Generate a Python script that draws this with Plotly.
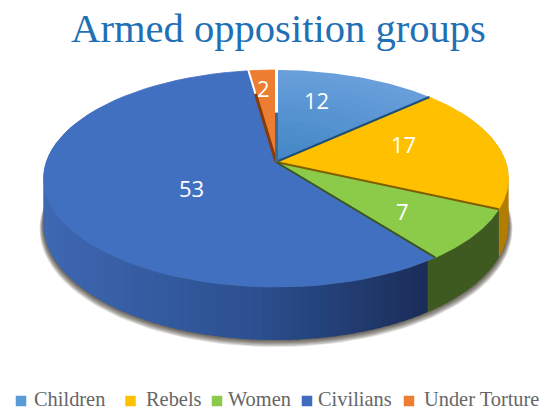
import numpy as np
import plotly.graph_objects as go

# ---- data ----
categories = ["Children", "Rebels", "Women", "Civilians", "Under Torture"]
values = [12, 17, 7, 53, 2]
title_text = "Armed opposition groups"

# ---- style ----
top_colors = ["#5B9BD5", "#FFC000", "#8CCB4A", "#4270C0", "#ED7D31"]
edge_colors = ["#1F4E79", "#7F5F00", "#3A5520", "#2F5597", "#843C0C"]
side_colors = ["#2E5F8C", "#B27E00", "#3F5A20", None, "#8A4A1C"]
legend_colors = ["#5B9BD5", "#FFC000", "#8CCB4A", "#3F6BC0", "#ED7D31"]
legend_marker_x = [21, 130.5, 217, 307, 409]
legend_text_x = [33, 145, 227, 317, 423]
legend_y = 401
legend_text_y = 399
label_pos = [(316, 100), (403, 144), (402, 211), (191, 188), (263, 88)]

CX, CY = 276, 162      # apex of the pie on the page
A, B, K = 229.7, 106.0, 0.152   # projection of the disc
DEPTH = 45.0           # thickness at the centre plane
WALL_SHIFT = 2.2       # the Women wall reaches a little under Civilians


def project(theta_deg, r=1.0, depth=0.0):
    t = np.radians(theta_deg)
    u, v = r * np.sin(t), r * np.cos(t)
    w = 1 + K * v
    return CX + A * u / w, CY - B * v / w + depth / w


def mix(c1, c2, f):
    a = [int(c1[i:i + 2], 16) for i in (1, 3, 5)]
    b = [int(c2[i:i + 2], 16) for i in (1, 3, 5)]
    return "#%02x%02x%02x" % tuple(round(p + (q - p) * f) for p, q in zip(a, b))


fig = go.Figure()


def poly(x, y, color, name, opacity=1.0, line=True):
    fig.add_trace(go.Scatter(
        x=list(x), y=list(y), mode="lines", fill="toself", fillcolor=color,
        line=dict(color=color, width=0.8 if line else 0), opacity=opacity,
        hoverinfo="skip", showlegend=False, name=name))


def seg(x, y, color, width, name):
    fig.add_trace(go.Scatter(x=list(x), y=list(y), mode="lines",
                             line=dict(color=color, width=width),
                             hoverinfo="skip", showlegend=False, name=name))


total = sum(values)
edges = np.concatenate([[0], np.cumsum(values)]) * 360.0 / total
wall_edges = edges.copy()
wall_edges[3] += WALL_SHIFT

# soft shadow beneath the body
ring = np.linspace(0, 360, 181)
for extra in (6, 5, 4, 3, 2, 1):
    sx, sy = project(ring, 1.0 + extra * 0.0028, DEPTH + extra * 0.6)
    poly(sx, sy, "#1A1206", "shadow", opacity=0.15, line=False)

# outer wall: each strip runs under the next one, so no seams show
for i, name in enumerate(categories):
    start, stop = wall_edges[i], wall_edges[i + 1]
    n = max(2, int((stop - start) / 2))
    steps = np.linspace(start, stop, n + 1)
    for a0, a1 in zip(steps[:-1], steps[1:]):
        if 60 > (a0 + a1) / 2 or (a0 + a1) / 2 > 300:
            continue
        arc = np.linspace(a0, min(a1 + 0.8, stop), 4)
        tx, ty = project(arc)
        bx, by = project(arc[::-1], 1.0, DEPTH)
        if side_colors[i] is None:
            f = float(np.clip((tx.mean() - 45) / (428 - 45), 0, 1))
            col = mix("#3E68B2", "#2B4F8F", f / 0.55) if f < 0.55 else mix("#2B4F8F", "#1A2D58", (f - 0.55) / 0.45)
        else:
            col = side_colors[i]
        poly(np.r_[tx, bx], np.r_[ty, by], col, name + " wall", line=False)

# top faces
for i, name in enumerate(categories):
    arc = np.linspace(edges[i], edges[i + 1], 60)
    if name == "Children":
        rings = np.linspace(1, 0.05, 14)
        for j, r in enumerate(rings):
            x, y = project(arc, r)
            poly(np.r_[x, CX + 3], np.r_[y, CY], mix("#689FDB", "#4386C6", j / 13), name, line=False)
    else:
        x, y = project(arc)
        poly(np.r_[x, CX], np.r_[y, CY], top_colors[i], name)

# cut edges between slices
for i, name in enumerate(categories[:3]):
    x, y = project(np.array([edges[i + 1]] * 2), np.array([0.0, 1.0]))
    seg(x, y, edge_colors[i], 2, name + " edge")

# gap and wall at the small slice
a = edges[4]
x, y = project(np.array([a, a]), np.array([0.62, 1.02]))
seg(x, y, "#FFFFFF", 2, "gap")
x, y = project(np.array([a, a]), np.array([0.0, 0.72]))
seg(x, y, edge_colors[4], 3, "Under Torture wall")
x, y = project(np.array([360.0, 360.0]), np.array([0.5, 1.02]))
seg(x + 0.5, y, "#FFFFFF", 3, "gap")
x, y = project(np.array([360.0, 360.0]), np.array([0.0, 0.5]))
seg(x + 0.5, y, "#3E6A92", 3, "Children wall")

# legend
for name, col, mx in zip(categories, legend_colors, legend_marker_x):
    fig.add_trace(go.Scatter(x=[mx], y=[legend_y], mode="markers", name=name,
                             marker=dict(symbol="square", size=10.5, color=col),
                             hoverinfo="name", showlegend=False))

annotations = [dict(x=px, y=py, text=str(v), showarrow=False, xanchor="center", yanchor="middle",
                    font=dict(family="Open Sans", size=22, color="#FFFFFF"))
               for v, (px, py) in zip(values, label_pos)]
annotations += [dict(x=tx, y=legend_text_y, text=name, showarrow=False, xanchor="left", yanchor="middle",
                     xshift=-1, font=dict(family="Liberation Serif", size=20.4, color="#666666"))
                for name, tx in zip(categories, legend_text_x)]

fig.update_layout(
    width=544, height=410, margin=dict(l=0, r=0, t=0, b=0),
    paper_bgcolor="#FFFFFF", plot_bgcolor="#FFFFFF", showlegend=False,
    title=dict(text=title_text, x=278.5 / 544, xanchor="center", y=1 - 28 / 410, yanchor="middle",
               font=dict(family="Liberation Serif", size=40.6, color="#1F70B5")),
    xaxis=dict(range=[0, 544], visible=False, fixedrange=True),
    yaxis=dict(range=[410, 0], visible=False, fixedrange=True),
    annotations=annotations,
)
fig.write_html("out.html", config={"displayModeBar": False},
               post_script="document.body.style.margin='0';document.body.style.overflow='hidden';")
